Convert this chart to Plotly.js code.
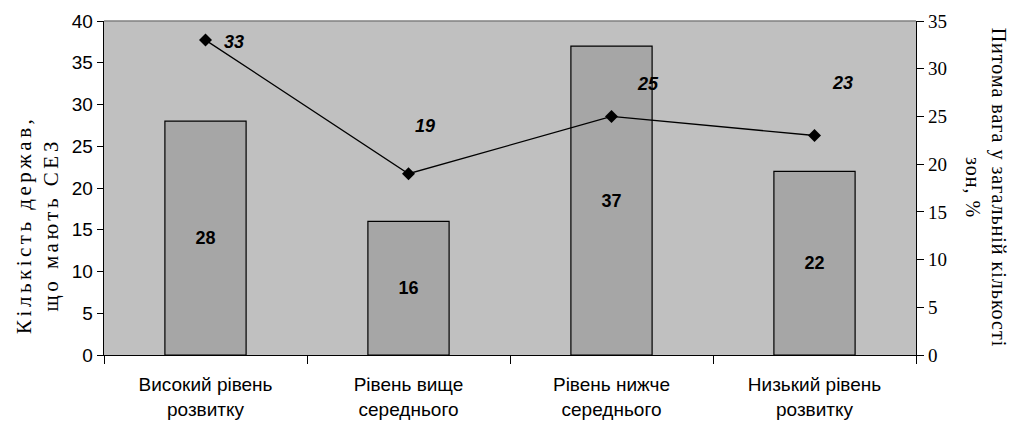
<!DOCTYPE html>
<html><head><meta charset="utf-8">
<script src="https://cdn.plot.ly/plotly-3.0.1.min.js"></script>
<style>html,body{margin:0;padding:0;background:#fff}#c{width:1013px;height:423px}
#c .annotation[data-index="4"] text{letter-spacing:3.5px}
#c .annotation[data-index="5"] text{letter-spacing:1px}
</style>
</head><body><div id="c"></div>
<script>
const categories = ["Високий рівень<br>розвитку", "Рівень вище<br>середнього", "Рівень нижче<br>середнього", "Низький рівень<br>розвитку"];
const countries = [28, 16, 37, 22];
const sharePct = [33, 19, 25, 23];
const leftTicks = [0, 5, 10, 15, 20, 25, 30, 35, 40];
const rightTicks = [0, 5, 10, 15, 20, 25, 30, 35];
const lineLabelShift = [[28, -2], [16, 48], [36, 32], [28, 53]];

const sans = "Liberation Sans, Arial, sans-serif";
const serif = "Liberation Serif, Times New Roman, serif";

const traces = [
  {type: 'bar', x: categories, y: countries, width: 0.4,
   marker: {color: '#a6a6a6', line: {color: '#000', width: 1.2}},
   text: countries.map(String), textposition: 'inside', insidetextanchor: 'middle',
   textfont: {family: sans, size: 18, color: '#000', weight: 'bold'},
   hoverinfo: 'skip'},
  {type: 'scatter', mode: 'lines+markers', x: categories, y: sharePct, yaxis: 'y2',
   line: {color: '#000', width: 1.3},
   marker: {symbol: 'diamond', size: 10, color: '#000'},
   hoverinfo: 'skip'}
];

const annotations = sharePct.map((v, i) => ({
  x: categories[i], y: v, xref: 'x', yref: 'y2', text: '<b><i>' + v + '</i></b>',
  showarrow: false, xshift: lineLabelShift[i][0], yshift: lineLabelShift[i][1],
  font: {family: sans, size: 18, color: '#000'}
}));
annotations.push({
  xref: 'paper', yref: 'paper', x: -0.082, y: 0.39, xanchor: 'center', yanchor: 'middle',
  textangle: -90, showarrow: false,
  text: 'Кількість держав,<br>що мають СЕЗ', font: {family: serif, size: 21, color: '#000'}
});
annotations.push({
  xref: 'paper', yref: 'paper', x: 1.086, y: 0.5, xanchor: 'center', yanchor: 'middle',
  textangle: 90, showarrow: false,
  text: 'Питома вага у загальній кількості<br>зон, %', font: {family: serif, size: 20, color: '#000'}
});

const layout = {
  width: 1013, height: 423,
  margin: {l: 104, r: 97, t: 21, b: 68},
  paper_bgcolor: '#fff', plot_bgcolor: '#c0c0c0',
  showlegend: false,
  xaxis: {type: 'category', tickson: 'boundaries', ticks: 'outside', ticklen: 8, tickcolor: '#000',
          showline: true, linecolor: '#000', linewidth: 1.3, showgrid: false,
          ticklabelstandoff: 12,
          tickfont: {family: sans, size: 19, color: '#000'}},
  yaxis: {range: [0, 40], tickvals: leftTicks, ticks: 'outside', ticklen: 6, tickcolor: '#000',
          showline: true, linecolor: '#000', linewidth: 1.3, showgrid: false, zeroline: false,
          tickfont: {family: sans, size: 19, color: '#000'}},
  yaxis2: {range: [0, 35], tickvals: rightTicks, overlaying: 'y', side: 'right',
           ticks: 'outside', ticklen: 7, tickcolor: '#000',
           showline: true, linecolor: '#000', linewidth: 1.3, showgrid: false, zeroline: false,
           tickfont: {family: serif, size: 19, color: '#000'}},
  annotations: annotations,
  shapes: [{type: 'line', xref: 'paper', yref: 'paper', x0: 0, x1: 1, y0: 1, y1: 1,
            line: {color: '#808080', width: 1.3}}]
};

Plotly.newPlot('c', traces, layout, {displayModeBar: false, staticPlot: true});
</script></body></html>
